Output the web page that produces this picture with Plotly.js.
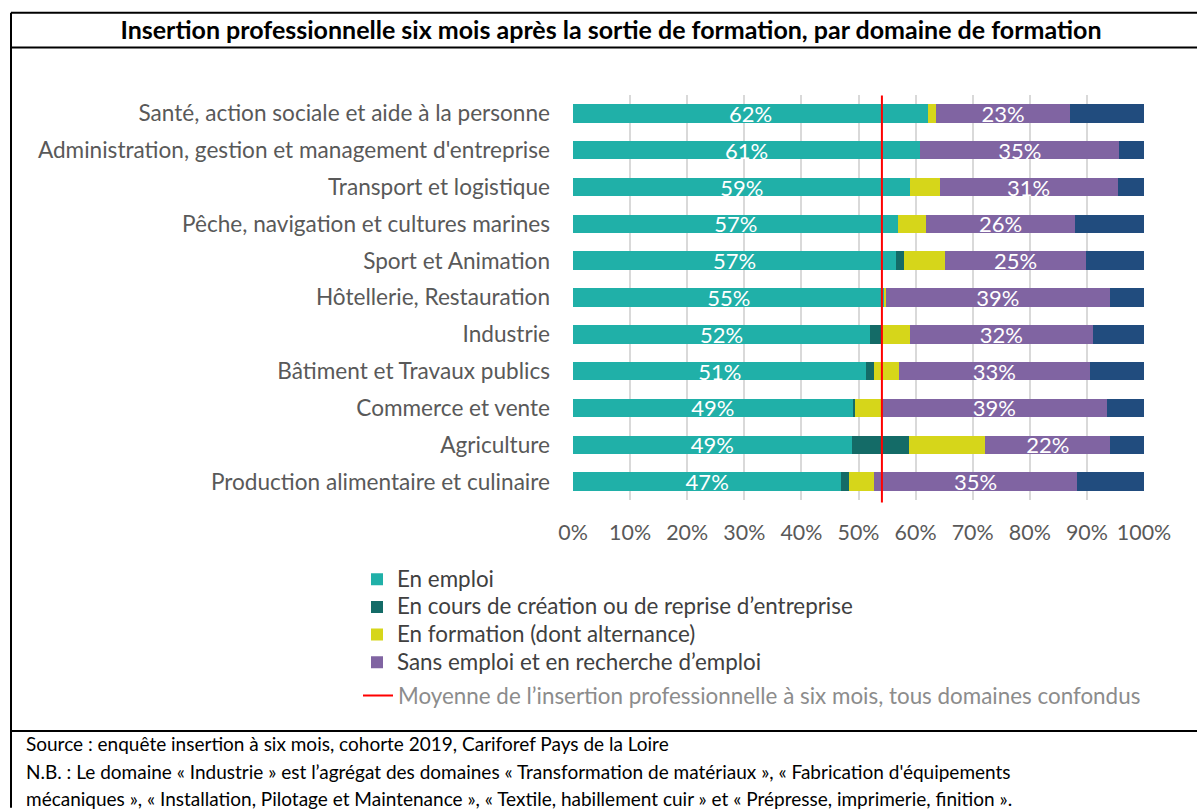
<!DOCTYPE html>
<html>
<head>
<meta charset="utf-8">
<script src="https://cdn.plot.ly/plotly-3.0.1.min.js"></script>
<style>
  html, body { margin: 0; padding: 0; background: #ffffff; }
  #chart { width: 1197px; height: 809px; }
</style>
</head>
<body>
<div id="chart"></div>
<script>
// ---------- Data ----------
const categories = [
  "Santé, action sociale et aide à la personne",
  "Administration, gestion et management d'entreprise",
  "Transport et logistique",
  "Pêche, navigation et cultures marines",
  "Sport et Animation",
  "Hôtellerie, Restauration",
  "Industrie",
  "Bâtiment et Travaux publics",
  "Commerce et vente",
  "Agriculture",
  "Production alimentaire et culinaire"
];
const enEmploi   = [62.2, 60.8, 59.1, 57.0, 56.6, 54.6, 52.0, 51.4, 49.0, 48.8, 47.0];
const enCreation = [0.0, 0.0, 0.0, 0.0, 1.3, 0.0, 2.0, 1.4, 0.4, 10.0, 1.4];
const enFormation= [1.4, 0.0, 5.1, 4.8, 7.2, 0.2, 5.0, 4.3, 4.7, 13.4, 4.4];
const sansEmploi = [23.4, 34.9, 31.2, 26.2, 24.8, 39.2, 32.0, 33.4, 39.4, 21.9, 35.4];
const autre      = [13.0, 4.3, 4.6, 12.0, 10.1, 6.0, 9.0, 9.5, 6.5, 5.9, 11.8];
const moyenneInsertion = 54.1;

const seriesNames = [
  "En emploi",
  "En cours de création ou de reprise d’entreprise",
  "En formation (dont alternance)",
  "Sans emploi et en recherche d’emploi",
  "Autre situation"
];
const meanName = "Moyenne de l’insertion professionnelle à six mois, tous domaines confondus";
const titleText = "Insertion professionnelle six mois après la sortie de formation, par domaine de formation";
const footerLines = [
  "Source : enquête insertion à six mois, cohorte 2019, Cariforef Pays de la Loire",
  "N.B. : Le domaine « Industrie » est l’agrégat des domaines « Transformation de matériaux », « Fabrication d'équipements",
  "mécaniques », « Installation, Pilotage et Maintenance », « Textile, habillement cuir » et « Prépresse, imprimerie, finition »."
];

// ---------- Layout geometry (pixels) ----------
const W = 1197, H = 809;
const L = 573, R = 1144, T = 94.5, B = 500.5;
const px = p => (p - L) / (R - L);
const py = p => (B - p) / (B - T);

const FONT = "Lato, 'Open Sans', sans-serif";
const colors = ["#20B0A8", "#146B67", "#D6D61A", "#8064A2", "#214C7E"];
const valueSets = [enEmploi, enCreation, enFormation, sansEmploi, autre];
const labelled = [true, false, false, true, false];
const inLegend = [true, true, true, true, false];

const traces = valueSets.map((vals, i) => ({
  type: "bar",
  orientation: "h",
  name: '<span style="font-size:22.4px">' + seriesNames[i] + '</span>',
  x: vals,
  y: categories,
  marker: { color: colors[i], line: { width: 0 } },
  text: labelled[i] ? vals.map(v => Math.round(v) + "%") : undefined,
  textposition: labelled[i] ? "inside" : "none",
  insidetextanchor: "middle",
  constraintext: "none",
  textfont: { family: FONT, size: 22, color: "#ffffff" },
  showlegend: inLegend[i],
  legendgroup: "g" + i,
  hovertemplate: seriesNames[i] + " : %{x:.1f}%<extra></extra>"
}));

const line = (x0, y0, x1, y1) => ({
  type: "line", xref: "paper", yref: "paper",
  x0: px(x0), x1: px(x1), y0: py(y0), y1: py(y1),
  line: { color: "#000000", width: 2 }, layer: "above"
});

const shapes = [
  line(11, 12, W, 12),
  line(11, 47, W, 47),
  line(11, 732, W, 732),
  line(11, 12, 11, H),
  {
    type: "line", xref: "x", yref: "paper",
    x0: moyenneInsertion, x1: moyenneInsertion, y0: py(503), y1: py(95),
    line: { color: "#FF0000", width: 2 },
    layer: "above",
    showlegend: true, legend: "legend2", name: meanName
  }
];

const footerY = [745, 773, 800];
const annotations = footerLines.map((t, i) => ({
  text: t, xref: "paper", yref: "paper",
  x: px(24), y: py(footerY[i]), xanchor: "left", yanchor: "middle",
  showarrow: false, font: { family: FONT, size: 19, color: "#000000" }
}));

const layout = {
  width: W, height: H,
  margin: { l: L, r: W - R, t: T, b: H - B, pad: 0 },
  paper_bgcolor: "#ffffff", plot_bgcolor: "#ffffff",
  barmode: "stack",
  bargap: 0.5,
  font: { family: FONT, color: "#595959" },
  title: {
    text: "<b>" + titleText + "</b>",
    xref: "paper", x: px(611), xanchor: "center",
    yref: "container", y: 1 - 30 / H, yanchor: "middle",
    font: { family: FONT, size: 25, color: "#000000" }
  },
  xaxis: {
    range: [0, 100], dtick: 10, tick0: 0, ticksuffix: "%",
    showgrid: true, gridcolor: "#D9D9D9", gridwidth: 1.5,
    zeroline: false, showline: false, ticks: "",
    ticklabelstandoff: 18,
    tickfont: { family: FONT, size: 21.4, color: "#595959" },
    fixedrange: true
  },
  yaxis: {
    type: "category", categoryorder: "array", categoryarray: categories,
    autorange: "reversed",
    showgrid: false, zeroline: false, showline: false, ticks: "",
    ticklabelstandoff: 22,
    tickfont: { family: FONT, size: 22.6, color: "#595959" },
    fixedrange: true
  },
  legend: {
    x: px(357), xanchor: "left",
    y: py(561), yanchor: "top",
    traceorder: "grouped", tracegroupgap: 0,
    font: { family: FONT, size: 19, color: "#404040" },
    bgcolor: "rgba(0,0,0,0)", borderwidth: 0
  },
  legend2: {
    x: px(358), xanchor: "left",
    y: py(697), yanchor: "middle",
    font: { family: FONT, size: 22.4, color: "#8C8C8C" },
    bgcolor: "rgba(0,0,0,0)", borderwidth: 0
  },
  shapes: shapes,
  annotations: annotations,
  showlegend: true
};

Plotly.newPlot("chart", traces, layout, { displayModeBar: false, responsive: false });
</script>
</body>
</html>
